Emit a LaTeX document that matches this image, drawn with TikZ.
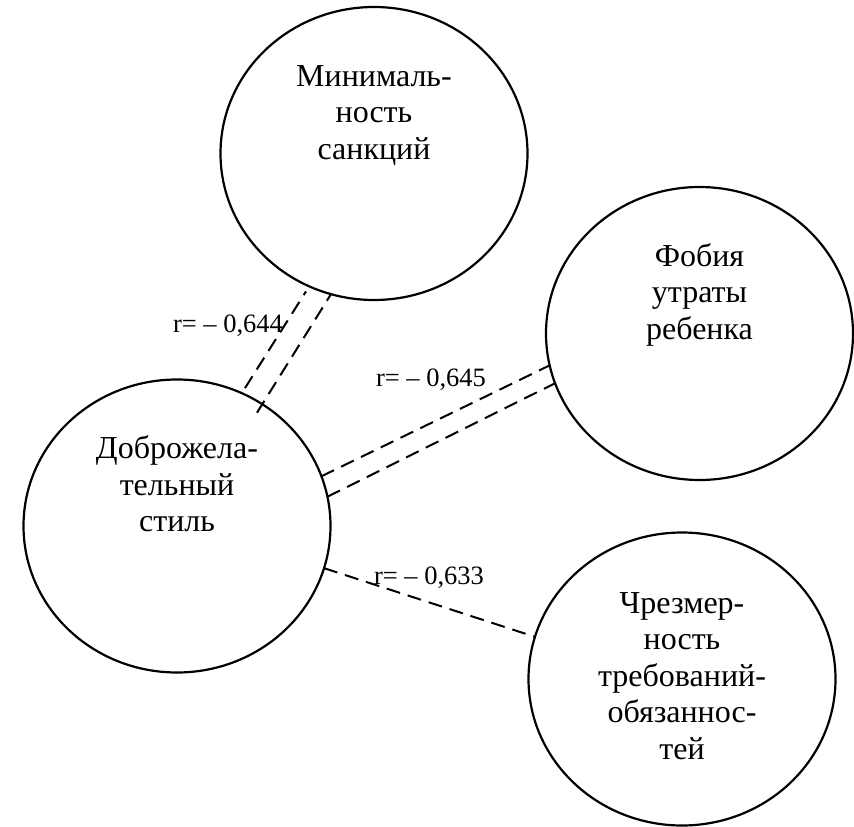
\documentclass[tikz,border=0pt]{standalone}
\usepackage{fontspec}
\setmainfont{Liberation Serif}
\usetikzlibrary{shapes.geometric}

% text of a bubble, lifted by an empty space below it
\newcommand{\bubbletext}[2][0pt]{\begin{tabular}{@{}c@{}}#2\\[#1]\end{tabular}}

\begin{document}
\begin{tikzpicture}[x=1pt,y=-1pt,
    main node/.style={ellipse,draw,line width=2.2pt,minimum width=307pt,minimum height=293pt,
      inner sep=0pt,outer sep=0pt,font=\fontsize{32}{36.5}\selectfont},
    link/.style={line width=2pt,dash pattern=on 14pt off 8pt},
    r label/.style={font=\fontsize{26.5}{30}\selectfont,inner sep=0pt}]
    \useasboundingbox (0,0) rectangle (854,827);

    \node[main node] (min) at (374,153.5) {\bubbletext[76pt]{Минималь-\\ность\\санкций}};
    \node[main node] (fear) at (699.5,333.5) {\bubbletext[76pt]{Фобия\\утраты\\ребенка}};
    \node[main node] (good) at (177,526) {\bubbletext[76pt]{Доброжела-\\тельный\\стиль}};
    \node[main node] (excess) at (682,679) {\bubbletext{Чрезмер-\\ность\\требований-\\обязаннос-\\тей}};

    \path[link]
    (good.64) edge[shorten <=6pt,shorten >=6pt] (min.-116)
    (good.55) edge[shorten <=-10pt] (min.-107)
    (good.19) edge (fear.192)
    (good.11) edge (fear.199)
    (good.-16.5) edge (excess.164);

    \node[r label] (r644) at (228,326) {r= – 0,644};
    \node[r label] (r645) at (431,380) {r= – 0,645};
    \node[r label] (r633) at (429,578) {r= – 0,633};
  \end{tikzpicture}
\end{document}
